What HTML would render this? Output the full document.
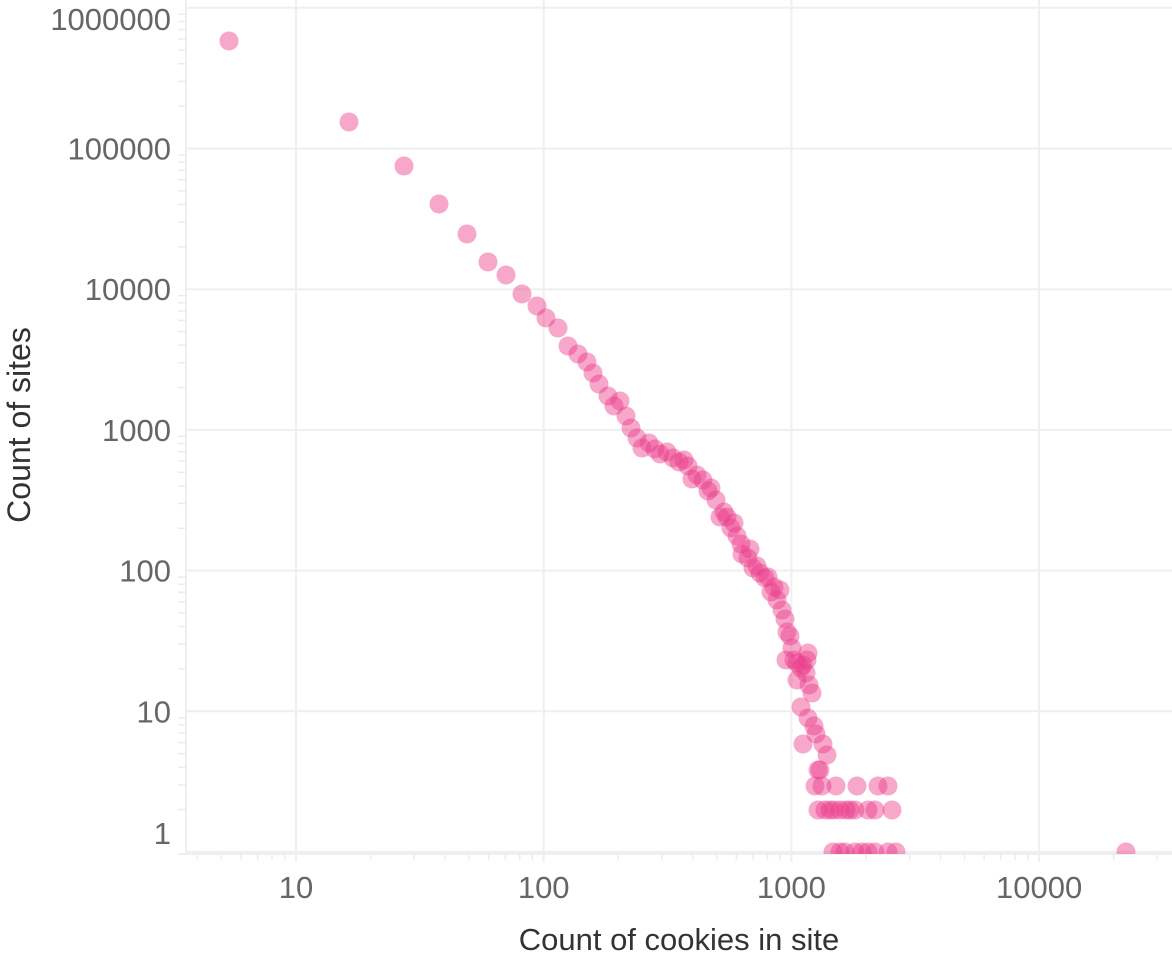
<!DOCTYPE html>
<html><head><meta charset="utf-8"><style>
html,body{margin:0;padding:0;background:#fff;}
svg{display:block;font-family:"Liberation Sans",Roboto,sans-serif;}
</style></head><body>
<svg id="s" width="1172" height="972" viewBox="0 0 1172 972" xmlns="http://www.w3.org/2000/svg">
<defs><clipPath id="c"><rect x="186" y="0" width="986" height="854"/></clipPath></defs>
<g id="grid" stroke="#efefef" stroke-width="2" fill="none"></g>
<g id="ticks" stroke="#ececec" stroke-width="1.5"></g>
<g id="labels" fill="#666" font-size="31"></g>
<g id="pts" clip-path="url(#c)" fill="rgb(234,60,138)" fill-opacity="0.45"></g>
<text x="679" y="950" text-anchor="middle" font-size="31" fill="#333">Count of cookies in site</text>
<text transform="translate(30,425) rotate(-90)" text-anchor="middle" font-size="32" fill="#333">Count of sites</text>
</svg>
<script>
var NS="http://www.w3.org/2000/svg";
function el(p,t,a,txt){var e=document.createElementNS(NS,t);for(var k in a)e.setAttribute(k,a[k]);if(txt)e.textContent=txt;document.getElementById(p).appendChild(e);}
function X(l){return 296+247.7*(l-1);}
function Y(l){return 852-140.7*l;}
for(var d=0;d<=6;d++){var y=Y(d);el("grid","line",{x1:186,x2:1172,y1:y,y2:y});
 var ly=y+11; if(d==6)ly=30; if(d==0)ly=844;
 el("labels","text",{x:171,y:ly,"text-anchor":"end"},String(Math.pow(10,d)));
 for(var m=2;m<10&&d<6;m++){var yy=Y(d+Math.log10(m));el("ticks","line",{x1:178,x2:186,y1:yy,y2:yy});}
}
el("grid","line",{x1:186,x2:186,y1:0,y2:854});
for(var d=1;d<=4;d++){var x=X(d);el("grid","line",{x1:x,x2:x,y1:0,y2:862});
 el("labels","text",{x:x,y:898,"text-anchor":"middle"},String(Math.pow(10,d)));}
for(var d=0;d<=4;d++)for(var m=2;m<10;m++){var xx=X(d+Math.log10(m));if(xx>186&&xx<1172)el("ticks","line",{x1:xx,x2:xx,y1:854,y2:860});}
el("grid","line",{x1:178,x2:1172,y1:854,y2:854});
var P=[[229,41],[349,122],[404,166],[439,204],[467,234],[488,262],[506,275],[522,294],[537,306],[546,318],[558,328],[568,346],[578,354],[587,362],[593,373],[599,384],[608,396],[614,406],[620,401],[626,416],[631,428],[637,438],[642,448],[649,443],[655,449],[660,454],[667,452],[673,458],[679,462],[684,460],[688,466],[692,479],[697,475],[703,480],[708,491],[711,488],[716,500],[720,517],[724,512],[727,517],[731,528],[734,523],[737,536],[741,544],[742,554],[748,558],[750,549],[753,568],[757,566],[760,573],[765,578],[768,577],[771,592],[774,587],[777,600],[780,590],[782,610],[785,619],[787,632],[790,636],[792,648],[794,660],[797,663],[786,660],[801,668],[806,673],[808,653],[797,680],[809,685],[812,693],[803,665],[807,660],[801,707],[808,718],[814,726],[803,744],[816,734],[823,744],[827,755],[820,770],[815,786],[818,770],[822,786],[836,786],[857,786],[878,786],[888,786],[818,810],[825,810],[830,810],[834,810],[840,810],[846,810],[850,810],[855,810],[868,810],[875,810],[892,810],[833,852],[840,852],[845,852],[855,852],[862,852],[868,852],[875,852],[888,852],[896,852],[1126,852]];
P.forEach(function(p){el("pts","circle",{cx:p[0],cy:p[1],r:9.5});});
</script>
</body></html>
